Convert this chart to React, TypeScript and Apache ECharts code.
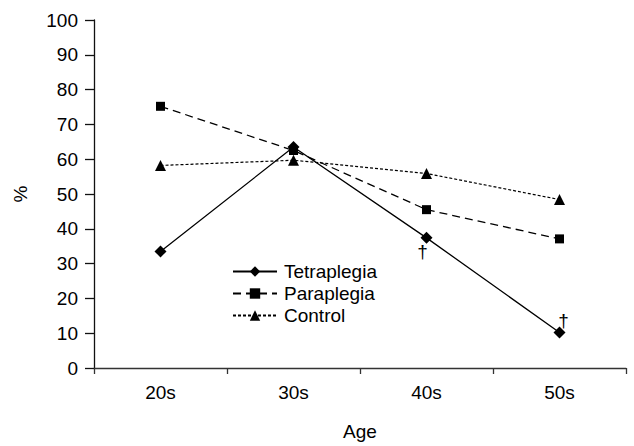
import React, { useEffect, useRef } from "react";
import * as echarts from "echarts";

const categories = ["20s", "30s", "40s", "50s"];
const tetraplegia = [33.5, 63.5, 37.4, 10.2];
const paraplegia = [75.2, 62.5, 45.5, 37.1];
const control = [58.2, 59.7, 55.9, 48.4];
const yTicks = { min: 0, max: 100, interval: 10 };

const FONT = "'Liberation Sans', Arial, Helvetica, sans-serif";

export default function App() {
  const ref = useRef<HTMLDivElement>(null);
  useEffect(() => {
    if (!ref.current) return;
    const chart = echarts.init(ref.current, null, { renderer: "svg" });
    const dagger = (dx: number, dy: number) => ({
      show: true,
      formatter: "†",
      position: "inside",
      offset: [dx, dy],
      color: "#000",
      fontSize: 19,
      fontFamily: FONT,
    });
    const tetraData = tetraplegia.map((v, i) => {
      if (i === 2) return { value: v, label: dagger(-4, 14) };
      if (i === 3) return { value: v, label: dagger(4, -12) };
      return v;
    });
    chart.setOption({
      animation: false,
      textStyle: { fontFamily: FONT },
      grid: { left: 94, right: 8, top: 20, bottom: 74 },
      legend: {
        orient: "vertical",
        left: 227,
        top: 257,
        itemWidth: 44,
        itemHeight: 13,
        itemGap: 3,
        textStyle: { fontSize: 19, color: "#000", fontFamily: FONT, padding: [0, 0, 0, 2] },
        data: ["Tetraplegia", "Paraplegia", "Control"],
      },
      xAxis: {
        type: "category",
        data: categories,
        boundaryGap: true,
        name: "Age",
        nameLocation: "middle",
        nameGap: 54,
        nameTextStyle: { fontSize: 19, color: "#000", fontFamily: FONT },
        axisLine: { lineStyle: { color: "#333", width: 1.3 } },
        axisTick: { show: true, length: 6, alignWithLabel: false, lineStyle: { color: "#333", width: 1.3 } },
        axisLabel: { fontSize: 19, color: "#000", margin: 15, fontFamily: FONT },
        splitLine: { show: false },
      },
      yAxis: {
        type: "value",
        min: yTicks.min,
        max: yTicks.max,
        interval: yTicks.interval,
        name: "%",
        nameLocation: "middle",
        nameGap: 64,
        nameRotate: 90,
        nameTextStyle: { fontSize: 19, color: "#000", fontFamily: FONT },
        axisLine: { show: true, lineStyle: { color: "#111", width: 1.3 } },
        axisTick: { show: true, length: 9, lineStyle: { color: "#111", width: 1.3 } },
        axisLabel: { fontSize: 19, color: "#000", margin: 16, fontFamily: FONT },
        splitLine: { show: false },
      },
      series: [
        {
          name: "Tetraplegia",
          type: "line",
          data: tetraData,
          symbol: "diamond",
          symbolSize: 12,
          itemStyle: { color: "#000" },
          lineStyle: { color: "#000", width: 1.3, type: "solid" },
          z: 3,
        },
        {
          name: "Paraplegia",
          type: "line",
          data: paraplegia,
          symbol: "rect",
          symbolSize: 9,
          itemStyle: { color: "#000" },
          lineStyle: { color: "#000", width: 1.3, type: [8, 5] },
          z: 2,
        },
        {
          name: "Control",
          type: "line",
          data: control,
          symbol: "triangle",
          symbolSize: 11,
          itemStyle: { color: "#000" },
          lineStyle: { color: "#000", width: 1.2, type: [3, 2] },
          z: 1,
        },
      ],
    });
    return () => chart.dispose();
  }, []);
  return <div ref={ref} style={{ width: 634, height: 446, position: "absolute", left: 0, top: 0, background: "#fff" }} />;
}
